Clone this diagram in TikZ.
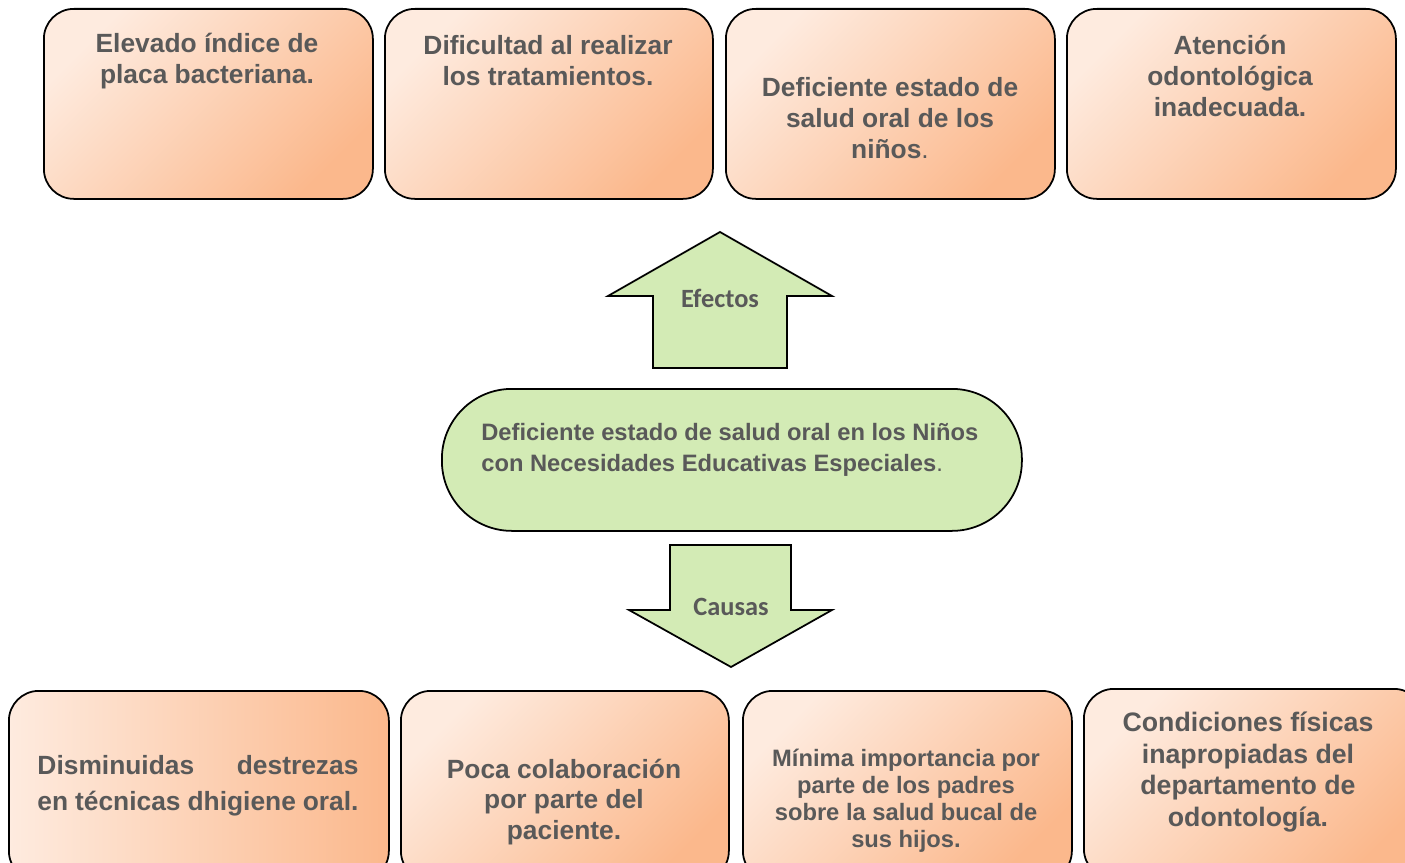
\documentclass[tikz,border=0pt]{standalone}
\usepackage{fontspec}
\setmainfont{Liberation Sans}
\newfontfamily\calibri{Carlito}
\usetikzlibrary{positioning}
\definecolor{txtgray}{HTML}{595959}
\definecolor{peachlight}{HTML}{FEEBDF}
\definecolor{peachdark}{HTML}{FBB88C}
\definecolor{leafgreen}{HTML}{D3EBB5}
\tikzset{
  probbox/.style={draw=black, line width=1pt, rounded corners=6mm, anchor=north west,
    inner sep=0pt, minimum height=38mm, left color=peachlight, right color=peachdark,
    shading angle=45},
  boxtext/.style={text=txtgray, font=\bfseries\fontsize{15}{17.6}\selectfont, align=center},
  bigarrow/.style={draw=black, line width=1pt, fill=leafgreen},
  arrowtext/.style={text=txtgray, font=\calibri\bfseries\fontsize{15}{17}\selectfont}
}
\begin{document}
\begin{tikzpicture}[x=0.2mm, y=-0.2mm]
  \useasboundingbox (0,0) rectangle (1405,863);
  % efectos
  \node[probbox, minimum width=65.8mm] (efa) at (43,8) {};
  \node[probbox, minimum width=65.6mm] (efb) at (384,8) {};
  \node[probbox, minimum width=65.8mm] (efc) at (725,8) {};
  \node[probbox, minimum width=65.8mm] (efd) at (1066,8) {};
  \node[boxtext] (efatxt) at (207,61) {Elevado índice de\\placa bacteriana.};
  \node[boxtext] (efbtxt) at (548,61) {Dificultad al realizar\\los tratamientos.};
  \node[boxtext] (efctxt) at (890,118) {Deficiente estado de\\salud oral de los\\niños\textmd{.}};
  \node[boxtext] (efdtxt) at (1230,76) {Atención\\odontológica\\inadecuada.};
  % flecha efectos
  \draw[bigarrow] (720,232) -- (832,296) -- (787,296) -- (787,368) -- (653,368)
    -- (653,296) -- (608,296) -- cycle;
  \node[arrowtext] (efectos) at (720,298) {Efectos};
  % problema central
  \node[draw=black, line width=1pt, fill=leafgreen, rounded corners=14mm, anchor=north west,
    inner sep=0pt, minimum width=116mm, minimum height=28.4mm] (prob) at (441,388) {};
  \node[text=txtgray, font=\bfseries\fontsize{13.5}{18}\selectfont, align=left, anchor=west,
    inner sep=0pt] (probtxt) at (481,450) {Deficiente estado de salud oral en los Niños\\con Necesidades Educativas Especiales\textmd{.}};
  % flecha causas
  \draw[bigarrow] (670,545) -- (791,545) -- (791,610) -- (832,610) -- (731,667)
    -- (629,610) -- (670,610) -- cycle;
  \node[arrowtext] (causas) at (731,607) {Causas};
  % causas
  \node[probbox, minimum width=76mm, shading angle=90] (caa) at (8,690) {};
  \node[probbox, minimum width=65.6mm] (cab) at (400,690) {};
  \node[probbox, minimum width=65.8mm] (cac) at (742,690) {};
  \node[probbox, minimum width=68mm] (cad) at (1083,688) {};
  \node[boxtext, font=\bfseries\fontsize{15}{20.4}\selectfont, text width=64.2mm, align=justify,
    inner sep=0pt] (caatxt) at (198,786) {Disminuidas destrezas\linebreak en técnicas dhigiene oral.};
  \node[boxtext] (cabtxt) at (564,802) {Poca colaboración\\por parte del\\paciente.};
  \node[boxtext, font=\bfseries\fontsize{13.5}{15.3}\selectfont] (cactxt) at (906,801) {Mínima importancia por\\parte de los padres\\sobre la salud bucal de\\sus hijos.};
  \node[boxtext, font=\bfseries\fontsize{15.2}{18}\selectfont] (cadtxt) at (1248,772) {Condiciones físicas\\inapropiadas del\\departamento de\\odontología.};
\end{tikzpicture}
\end{document}
